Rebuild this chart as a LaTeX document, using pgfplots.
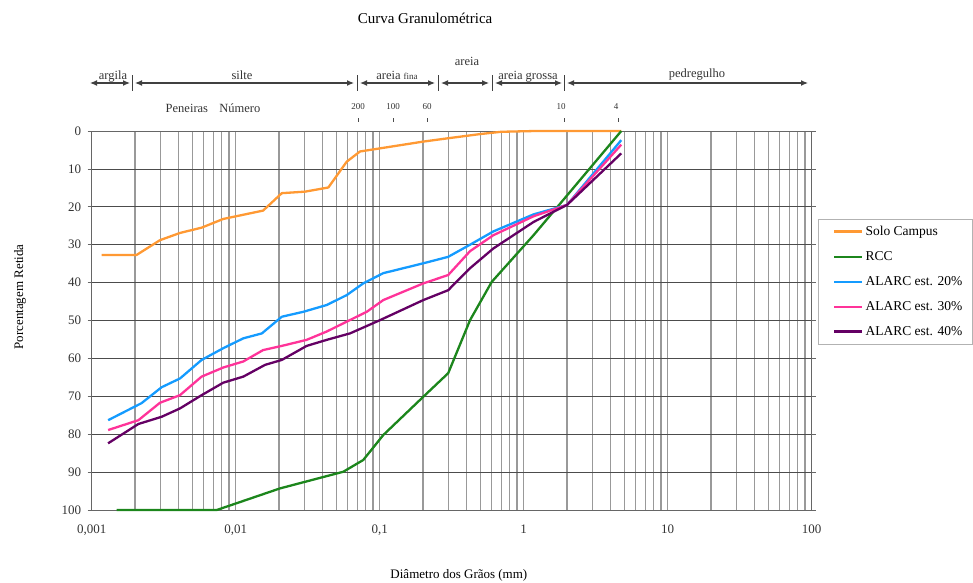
\documentclass[border=0pt]{standalone}
\usepackage{fontspec}
\setmainfont{Liberation Serif}
\usepackage{pgfplots}
\pgfplotsset{compat=1.18}
\usetikzlibrary{arrows.meta}

\definecolor{cOrange}{RGB}{255,153,51}
\definecolor{cGreen}{RGB}{28,134,28}
\definecolor{cBlue}{RGB}{20,155,255}
\definecolor{cPink}{RGB}{255,51,153}
\definecolor{cPurple}{RGB}{100,0,100}

\begin{document}
\begin{tikzpicture}[x=1pt,y=-1pt]
\useasboundingbox (0,0) rectangle (973,582);
\begin{axis}[
  at={(91.7pt,-510pt)}, anchor=south west,
  scale only axis, width=720pt, height=379pt,
  xmode=log, log basis x=10,
  xmin=0.001, xmax=100, ymin=0, ymax=100, y dir=reverse,
  xtick={0.001,0.01,0.1,1,10,100},
  xticklabels={{0{,}001},{0{,}01},{0{,}1},1,10,100},
  minor xtick={0.002,0.003,0.004,0.005,0.006,0.007,0.008,0.009,
    0.02,0.03,0.04,0.05,0.06,0.07,0.08,0.09,
    0.2,0.3,0.4,0.5,0.6,0.7,0.8,0.9,
    2,3,4,5,6,7,8,9,20,30,40,50,60,70,80,90},
  ytick={0,10,...,100},
  /pgf/number format/assume math mode=true,
  ticklabel style={font=\fontsize{13}{15}\selectfont, text=black!80},
  xticklabel style={yshift=-7pt},
  yticklabel style={xshift=-3pt},
  xmajorgrids, xminorgrids, ymajorgrids,
  x grid style={color=black!40, line width=1.3pt},
  y grid style={color=black!70, line width=0.8pt},
  axis line style={black!60, line width=0.8pt},
  xtick style={draw=none},
  minor tick length=0pt,
  ytick style={draw=black!60, line width=0.8pt},
  tick align=outside, major tick length=4pt,
  title={Curva Granulométrica},
  title style={at={(axis description cs:0.463,1.282)}, anchor=center, font=\fontsize{15}{17}\selectfont},
  xlabel={Diâmetro dos Grãos (mm)},
  xlabel style={at={(axis description cs:0.510,-0.1715)}, anchor=center, font=\fontsize{13}{15}\selectfont},
  ylabel={Porcentagem Retida},
  ylabel style={at={(axis description cs:-0.0996,0.562)}, anchor=center, font=\fontsize{13}{15}\selectfont},
  legend cell align=left,
  legend image code/.code={\path (0pt,0pt); \draw[#1] (7pt,0pt) -- (35pt,0pt);},
  legend style={at={(1.0088,0.768)}, anchor=north west, draw=black!30, fill=white,
    font=\fontsize{13.5}{15}\selectfont, inner xsep=8pt, inner ysep=5pt, row sep=10.5pt},
  every axis plot/.append style={line width=2.3pt, line join=round, no marks},
  clip=false,
]
\addplot[cOrange] coordinates {
 (0.00117,32.7) (0.00205,32.7) (0.00298,28.8) (0.0041,26.9) (0.0058,25.5)
 (0.0082,23.2) (0.0155,21.0) (0.0209,16.4) (0.0303,16.0) (0.044,14.9)
 (0.059,8.1) (0.073,5.4) (0.2,2.8) (0.3,1.9) (0.5,0.8) (0.7,0.2)
 (1.2,0) (2,0) (4.76,0)};
\addlegendentry{Solo Campus}
\addplot[cGreen] coordinates {
 (0.00149,100) (0.00738,100) (0.00866,99.1) (0.0203,94.3) (0.0559,89.9)
 (0.0769,86.8) (0.106,80.2) (0.201,70.1) (0.299,63.9) (0.424,49.9)
 (0.6,39.8) (1.17,27.5) (2,17) (4.76,0)};
\addlegendentry{RCC}
\addplot[cBlue] coordinates {
 (0.0013,76.3) (0.00222,71.8) (0.00306,67.6) (0.0041,65.3) (0.0058,60.4)
 (0.0082,57.3) (0.0113,54.7) (0.0152,53.4) (0.0209,49.0) (0.0295,47.7)
 (0.0429,45.9) (0.059,43.3) (0.0769,40.2) (0.106,37.5) (0.201,34.9)
 (0.299,33.2) (0.424,30.0) (0.615,26.5) (1.17,22.0) (2,19.5) (4.76,2.4)};
\addlegendentry{ALARC est. 20\%}
\addplot[cPink] coordinates {
 (0.0013,78.9) (0.00211,76.3) (0.00298,71.7) (0.0041,69.7) (0.0058,64.8)
 (0.0082,62.4) (0.0113,60.8) (0.0155,57.8) (0.0209,56.7) (0.0311,55.1)
 (0.0429,52.9) (0.059,50.3) (0.0813,47.7) (0.106,44.6) (0.201,40.2)
 (0.299,38.0) (0.424,31.7) (0.615,27.5) (1.17,22.5) (2,19.5) (4.76,3.6)};
\addlegendentry{ALARC est. 30\%}
\addplot[cPurple] coordinates {
 (0.0013,82.4) (0.00211,77.3) (0.00306,75.4) (0.0041,73.2) (0.0058,69.7)
 (0.0082,66.4) (0.0113,64.8) (0.016,61.7) (0.0209,60.4) (0.0311,56.7)
 (0.0429,55.1) (0.0622,53.4) (0.1005,49.9) (0.201,44.6) (0.299,42.0)
 (0.424,36.2) (0.615,31.0) (1.17,24.0) (2,19.5) (4.76,5.9)};
\addlegendentry{ALARC est. 40\%}
\end{axis}

% soil classification band
\begin{scope}[line width=1.2pt, draw=black!75, >={Latex[length=7pt,width=6pt]}]
\draw[<->] (90,83) -- (130,83);
\draw[<->] (135,83) -- (354,83);
\draw[<->] (360,83) -- (435,83);
\draw[<->] (441,83) -- (489,83);
\draw[<->] (495,83) -- (562,83);
\draw[<->] (567,83) -- (808,83);
\foreach \xx in {132.7,357.3,438,492,564.5} \draw[line width=0.8pt] (\xx,75) -- (\xx,91);
\end{scope}
\begin{scope}[every node/.style={font=\fontsize{12.5}{14}\selectfont, text=black!80, inner sep=0pt, anchor=base}]
\node at (113,79) {argila};
\node at (242,79) {silte};
\node at (397,79) {areia {\fontsize{9}{10}\selectfont fina}};
\node at (467,65) {areia};
\node at (528,79) {areia grossa};
\node at (697,77) {pedregulho};
\node at (213,112.5) {Peneiras\hspace{0.9em}Número};
\end{scope}
\begin{scope}[every node/.style={font=\fontsize{9}{10}\selectfont, text=black!80, inner sep=0pt, anchor=base}]
\node at (358,109) {200};
\node at (393,109) {100};
\node at (427,109) {60};
\node at (561,109) {10};
\node at (616,109) {4};
\end{scope}
\foreach \xx in {358,393,427,564.3,618.3} \draw[black!70, line width=0.8pt] (\xx,118) -- (\xx,122);
\end{tikzpicture}
\end{document}
